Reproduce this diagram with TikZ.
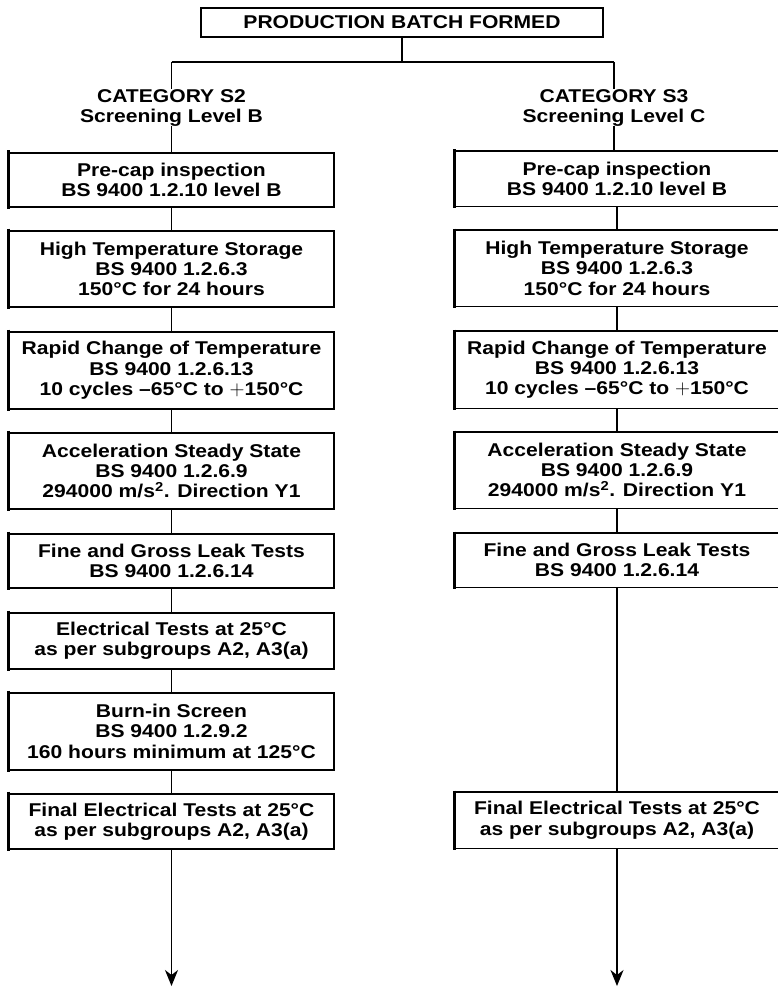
\documentclass[tikz,border=0pt]{standalone}
\usepackage{fontspec}
\setmainfont{Liberation Sans}[FakeStretch=1.14]
\usetikzlibrary{arrows.meta}
\newcommand{\bigplus}{\smash{\normalfont\fontsize{21}{20}\selectfont$+$}}
\begin{document}
\begin{tikzpicture}[x=1pt,y=-1pt,
  txt/.style={font=\bfseries\fontsize{18.5}{20.2}\selectfont, align=center},
  box/.style={txt, draw, line width=1.7pt, minimum width=325pt, inner sep=0pt, anchor=north,
    append after command={(\tikzlastnode.north west) edge[line width=2.9pt, shorten <=-1.5pt, shorten >=-1.5pt] (\tikzlastnode.south west)}},
  rbox/.style={txt, minimum width=325pt, inner sep=0pt, anchor=north,
    append after command={(\tikzlastnode.north west) edge[line width=2.9pt, shorten <=-1.5pt, shorten >=-1.5pt] (\tikzlastnode.south west)
      (\tikzlastnode.north west) edge[line width=1.7pt] ([xshift=20pt]\tikzlastnode.north east)
      (\tikzlastnode.south west) edge[line width=1.7pt] ([xshift=20pt]\tikzlastnode.south east)}},
  topbox/.style={txt, draw, line width=2pt, minimum width=402pt, minimum height=29pt, inner sep=0pt},
  cat/.style={txt, inner sep=0pt, anchor=north},
  link/.style={line width=1.3pt},
  arr/.style={line width=1.4pt, -{Stealth[length=16pt,width=13pt,inset=5pt]}}
]
\useasboundingbox (0,0) rectangle (777,987);

\node[topbox] (top) at (402,22.5) {PRODUCTION BATCH FORMED};
\coordinate (j) at (402,62);
\coordinate (jl) at (171.5,62);
\coordinate (jr) at (614,62);

\node[cat] (catL) at (171.5,89) {CATEGORY S2\\Screening Level B};
\node[cat] (catR) at (614,89) {CATEGORY S3\\Screening Level C};

% left column
\node[box, minimum height=54pt] (L1) at (171.5,152) {Pre-cap inspection\\BS 9400 1.2.10 level B};
\node[box, minimum height=76pt] (L2) at (171.5,230) {High Temperature Storage\\BS 9400 1.2.6.3\\150°C for 24 hours};
\node[box, minimum height=77pt] (L3) at (171.5,331) {Rapid Change of Temperature\\BS 9400 1.2.6.13\\10 cycles –65°C to \bigplus150°C};
\node[box, minimum height=76pt] (L4) at (171.5,432) {Acceleration Steady State\\BS 9400 1.2.6.9\\294000 m/s\textsuperscript{2}. Direction Y1};
\node[box, minimum height=54pt] (L5) at (171.5,533) {Fine and Gross Leak Tests\\BS 9400 1.2.6.14};
\node[box, minimum height=56pt] (L6) at (171.5,612) {Electrical Tests at 25°C\\as per subgroups A2, A3(a)};
\node[box, minimum height=77pt] (L7) at (171.5,692) {Burn-in Screen\\BS 9400 1.2.9.2\\160 hours minimum at 125°C};
\node[box, minimum height=55pt] (L8) at (171.5,793) {Final Electrical Tests at 25°C\\as per subgroups A2, A3(a)};
\coordinate (aL) at (171.5,986);

% right column
\node[rbox, minimum height=55pt] (R1) at (617,151) {Pre-cap inspection\\BS 9400 1.2.10 level B};
\node[rbox, minimum height=76pt] (R2) at (617,230) {High Temperature Storage\\BS 9400 1.2.6.3\\150°C for 24 hours};
\node[rbox, minimum height=77pt] (R3) at (617,331) {Rapid Change of Temperature\\BS 9400 1.2.6.13\\10 cycles –65°C to \bigplus150°C};
\node[rbox, minimum height=76pt] (R4) at (617,432) {Acceleration Steady State\\BS 9400 1.2.6.9\\294000 m/s\textsuperscript{2}. Direction Y1};
\node[rbox, minimum height=54pt] (R5) at (617,533) {Fine and Gross Leak Tests\\BS 9400 1.2.6.14};
\node[rbox, minimum height=56pt] (R8) at (617,792) {Final Electrical Tests at 25°C\\as per subgroups A2, A3(a)};
\coordinate (aR) at (617,986);

% connectors
\draw[link] (top.south) -- (j);
\draw[link] (jl) -- (jr);
\draw[link] (jl) -- (catL.north);
\draw[link] (jr) -- (catR.north);
\draw[link] (catL.south) -- (catL.south |- L1.north);
\draw[link] (catR.south) -- (catR.south |- R1.north);
\draw[link] (L1) -- (L2);
\draw[link] (L2) -- (L3);
\draw[link] (L3) -- (L4);
\draw[link] (L4) -- (L5);
\draw[link] (L5) -- (L6);
\draw[link] (L6) -- (L7);
\draw[link] (L7) -- (L8);
\draw[arr] (L8.south) -- (aL);
\draw[link] (R1) -- (R2);
\draw[link] (R2) -- (R3);
\draw[link] (R3) -- (R4);
\draw[link] (R4) -- (R5);
\draw[link] (R5) -- (R8);
\draw[arr] (R8.south) -- (aR);
\end{tikzpicture}
\end{document}
